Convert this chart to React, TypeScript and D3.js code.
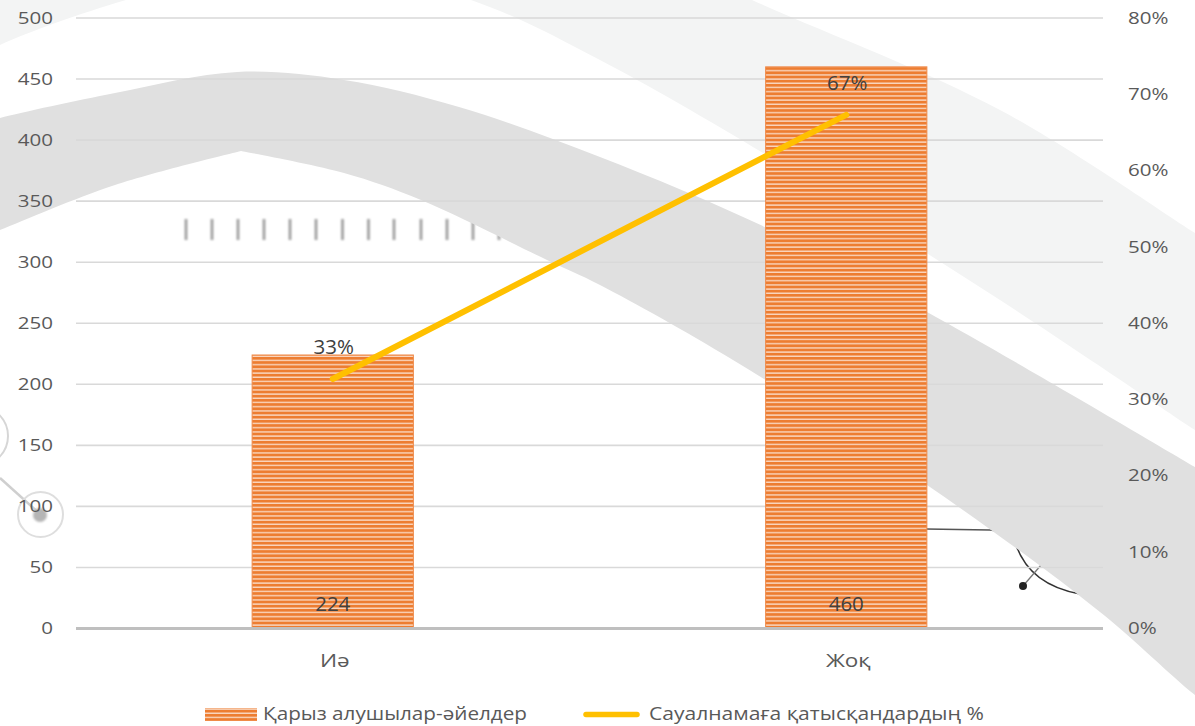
import React from "react";
import * as d3 from "d3";

const categories = ["Иә", "Жоқ"];
const borrowers = [224, 460];
const surveyShare = [0.327, 0.673];
const leftTicks = [0, 50, 100, 150, 200, 250, 300, 350, 400, 450, 500];
const rightTicks = [0, 0.1, 0.2, 0.3, 0.4, 0.5, 0.6, 0.7, 0.8];
const seriesNames = ["Қарыз алушылар-әйелдер", "Сауалнамаға қатысқандардың %"];

const W = 1195;
const H = 726;
const FONT = "'Open Sans', 'DejaVu Sans', sans-serif";

// decorative background geometry (from the picture's background image)
const darkUpper: [number, number][] = [[-20, 124], [0, 118], [115, 93], [237, 72], [344, 80], [459, 107], [600, 157], [767, 228], [927, 312], [1195, 467], [1230, 488]];
const darkLowerRight: [number, number][] = [[1230, 720], [1195, 695], [1100, 612], [927, 485], [733, 360], [600, 285], [547, 260], [421, 200], [344, 173], [241, 151]];
const darkLowerLeft: [number, number][] = [[241, 151], [115, 185], [0, 230], [-20, 238]];
const lightInner: [number, number][] = [[-30, 62], [0, 45], [126, 0], [300, -40], [471, 0], [600, 60], [800, 175], [1000, 300], [1195, 430], [1230, 453]];
const lightOuter: [number, number][] = [[1230, 255], [1195, 233], [1000, 110], [752, 0], [600, -70], [300, -130], [-30, -60]];
const tickMarksX = [186, 212, 238, 264, 290, 316, 342.5, 368.5, 394, 421, 447, 473, 499];

function SText({ x, y, sx = 1, anchor = "start", size, fill, children, weight = 400, family = FONT }: any) {
  return (
    <text
      transform={`translate(${x},${y}) scale(${sx},1)`}
      textAnchor={anchor}
      fontSize={size}
      fill={fill}
      fontFamily={family}
      fontWeight={weight}
    >
      {children}
    </text>
  );
}

export default function App() {
  const x = d3.scaleBand<string>().domain(categories).range([76, 1103]).paddingInner(0.686).paddingOuter(0.343);
  const yL = d3.scaleLinear().domain([0, 500]).range([628.5, 18]);
  const yR = d3.scaleLinear().domain([0, 0.8]).range([628.5, 18]);
  const fmtPct = d3.format(".0%");

  const cr = d3.line().curve(d3.curveCatmullRom.alpha(0.5));
  const darkPath =
    cr(darkUpper)! +
    "L" + cr(darkLowerRight)!.slice(1) +
    "L" + cr(darkLowerLeft)!.slice(1) + "Z";
  const lightPath = cr(lightInner)! + "L" + cr(lightOuter)!.slice(1) + "Z";

  const lineGen = d3
    .line<number>()
    .x((_, i) => (x(categories[i]) as number) + x.bandwidth() / 2)
    .y((d) => yR(d));

  return (
    <svg width={W} height={H} style={{ position: "absolute", left: 0, top: 0, display: "block", background: "#fff" }}>
      <defs>
        <pattern id="hstripes" width="8" height="4.2" patternUnits="userSpaceOnUse">
          <rect width="8" height="4.2" fill="#ED7D31" />
          <rect y="2.8" width="8" height="1.4" fill="#F9D7C0" />
        </pattern>
        <filter id="blur1" filterUnits="userSpaceOnUse" x="-50" y="-50" width="1300" height="830">
          <feGaussianBlur stdDeviation="1.2" />
        </filter>
      </defs>

      {/* background decoration */}
      <g>
        <path d={lightPath} fill="#f3f4f4" />
        {/* left circle ornaments */}
        <circle cx={-22} cy={436} r={30} fill="none" stroke="#d6d6d6" strokeWidth={2} />
        <line x1={0} y1={478} x2={40} y2={514} stroke="#cfcfcf" strokeWidth={2.5} />
        <circle cx={40.5} cy={514.5} r={22.5} fill="none" stroke="#dedede" strokeWidth={2} />
        <circle cx={40} cy={515} r={7} fill="#b5b5b5" filter="url(#blur1)" />
        {/* right ornaments */}
        <path d="M926,529 L990,530 Q1005,531 1015,540" fill="none" stroke="#555" strokeWidth={1.6} />
        <path d="M1016,545 Q1030,585 1080,594" fill="none" stroke="#333" strokeWidth={1.6} />
        <line x1={1023} y1={586} x2={1048} y2={557} stroke="#777" strokeWidth={1.3} />
        <circle cx={1023} cy={586} r={4} fill="#222" />
        {/* tick marks ornament */}
        <g filter="url(#blur1)">
          {tickMarksX.map((tx, i) => (
            <rect key={i} x={tx - 1.3} y={219} width={2.6} height={21} fill="#9a9a9a" />
          ))}
        </g>
        <path d={darkPath} fill="#e0e0e0" />
      </g>

      {/* gridlines */}
      {leftTicks.slice(1).map((t) => (
        <line key={t} x1={76} x2={1103} y1={yL(t)} y2={yL(t)} stroke="#d9d9d9" strokeWidth={1.6} />
      ))}

      {/* bars */}
      {borrowers.map((v, i) => (
        <rect
          key={i}
          x={x(categories[i])}
          y={yL(v)}
          width={x.bandwidth()}
          height={yL(0) - yL(v)}
          fill="url(#hstripes)"
          stroke="#EF8A4A"
          strokeWidth={1}
        />
      ))}

      {/* axis line */}
      <line x1={76} x2={1103} y1={yL(0)} y2={yL(0)} stroke="#bfbfbf" strokeWidth={3.2} />

      {/* line series */}
      <path d={lineGen(surveyShare)!} fill="none" stroke="#FFC000" strokeWidth={6} strokeLinecap="round" />

      {/* data labels */}
      {borrowers.map((v, i) => (
        <SText key={"b" + i} x={(x(categories[i]) as number) + x.bandwidth() / 2} y={yL(0) - 17.5} anchor="middle" size={20.5} fill="#404040">
          {v}
        </SText>
      ))}
      {surveyShare.map((v, i) => (
        <SText key={"p" + i} x={(x(categories[i]) as number) + x.bandwidth() / 2 + 1} y={yR(v) - 25} anchor="middle" size={20.5} fill="#404040">
          {fmtPct(v)}
        </SText>
      ))}

      {/* left axis labels */}
      {leftTicks.map((t) => (
        <SText key={t} x={53} y={yL(t) + 5.6} anchor="end" size={15.8} sx={1.3} fill="#595959">
          {t}
        </SText>
      ))}
      {/* right axis labels */}
      {rightTicks.map((t) => (
        <SText key={t} x={1128} y={yR(t) + 5.6} anchor="start" size={15.8} sx={1.3} fill="#595959">
          {fmtPct(t)}
        </SText>
      ))}
      {/* category labels */}
      {categories.map((c) => (
        <SText key={c} x={(x(c) as number) + x.bandwidth() / 2 + 2} y={667} anchor="middle" size={18} sx={1.25} fill="#595959">
          {c}
        </SText>
      ))}

      {/* legend */}
      <rect x={205} y={708} width={52} height={13} fill="url(#hstripes)" />
      <text x={263} y={719.5} fontSize={18.3} fontFamily={FONT} fill="#595959" textLength={264} lengthAdjust="spacingAndGlyphs">
        {seriesNames[0]}
      </text>
      <line x1={586} x2={637} y1={714.5} y2={714.5} stroke="#FFC000" strokeWidth={5.5} strokeLinecap="round" />
      <text x={649} y={719.5} fontSize={18.3} fontFamily={FONT} fill="#595959" textLength={335} lengthAdjust="spacingAndGlyphs">
        {seriesNames[1]}
      </text>
    </svg>
  );
}
